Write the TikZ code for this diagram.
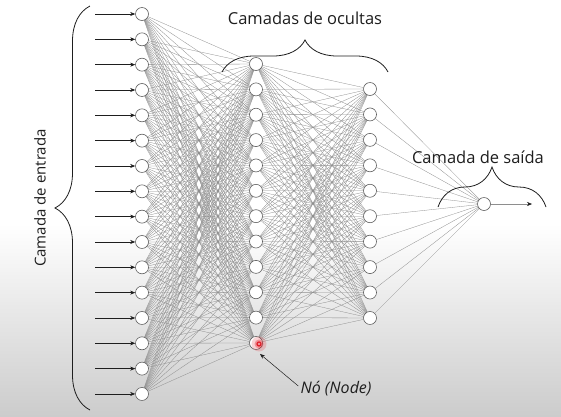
\documentclass[tikz,border=0pt]{standalone}
\usepackage{fontspec}
\setmainfont{Open Sans}
\usetikzlibrary{arrows.meta,positioning,calc,decorations.pathreplacing}
\definecolor{nnwire}{HTML}{8E8E8E}
\definecolor{nnedge}{HTML}{5E5E5E}
\definecolor{nntext}{HTML}{1E1E1E}
\definecolor{nnred}{HTML}{E0202A}
\pgfdeclarelayer{shade}
\pgfdeclarelayer{wires}
\pgfsetlayers{shade,wires,main}
\tikzset{
  neuron/.style={circle,draw=nnedge,fill=white,line width=0.6pt,
                 minimum size=13pt,inner sep=0pt},
  wire/.style={nnwire,line width=0.3pt},
  ar/.style={-{Stealth[length=5pt,width=4pt,color=nntext]},line width=0.5pt,nntext},
  brc/.style={decorate,decoration={brace,amplitude=#1},line width=0.8pt,nntext},
  lab/.style={font=\fontsize{16.5}{19}\selectfont,text=nntext,inner sep=0pt},
}

\begin{document}
\begin{tikzpicture}[x=1pt,y=-1pt]
  \useasboundingbox (0,0) rectangle (561,416);
  \begin{pgfonlayer}{shade}
    \fill[white] (0,0) rectangle (561,225);
    \shade[top color=white,bottom color=black!20] (0,224) rectangle (561,416);
  \end{pgfonlayer}
  % input layer
  \foreach \n in {1,...,16} {
    \node[neuron] (in\n) at (142,{14+(\n-1)*25.33}) {};
    \coordinate (src\n) at (95,{14+(\n-1)*25.33});
    \draw[ar] (src\n) -- (in\n);
  }
  % hidden layers
  \foreach \n in {1,...,12}
    \node[neuron] (ha\n) at (256,{64+(\n-1)*25.36}) {};
  \foreach \n in {1,...,10}
    \node[neuron] (hb\n) at (370,{89+(\n-1)*25.44}) {};
  % output
  \node[neuron] (out) at (484,204) {};
  \coordinate (res) at (532,204);
  \draw[ar,draw=nnwire] (out) -- (res);
  % wires
  \begin{pgfonlayer}{wires}
    \foreach \i in {1,...,16}
      \foreach \j in {1,...,12}
        \draw[wire] (in\i.center) -- (ha\j.center);
    \foreach \i in {1,...,12}
      \foreach \j in {1,...,10}
        \draw[wire] (ha\i.center) -- (hb\j.center);
    \foreach \i in {1,...,10}
      \draw[wire] (hb\i.center) -- (out.center);
  \end{pgfonlayer}
  % highlighted node
  \coordinate (mark) at ($(ha12)+(3,1)$);
  \fill[nnred,opacity=0.2] (mark) circle (7.5);
  \fill[nnred,opacity=0.35] (mark) circle (4.5);
  \draw[nnred,line width=1.2pt] (mark) circle (2);
  % braces and labels
  \draw[brc=35] (90,410) -- (90,6);
  \node[lab,font=\fontsize{15}{18}\selectfont,rotate=90] (entr) at (40,198) {Camada de entrada};
  \draw[brc=32] (222,72) -- (388,72);
  \node[lab] (ocult) at (305,18) {Camadas de ocultas};
  \draw[brc=40] (438,207) -- (546,207);
  \node[lab] (saida) at (478,157) {Camada de saída};
  \node[lab,font=\fontsize{16}{19}\selectfont\itshape] (lbl) at (336,389) {Nó (Node)};
  \draw[ar] ($(lbl.west)+(-2,-3)$) -- ($(ha12)+(4,11)$);
\end{tikzpicture}
\end{document}
